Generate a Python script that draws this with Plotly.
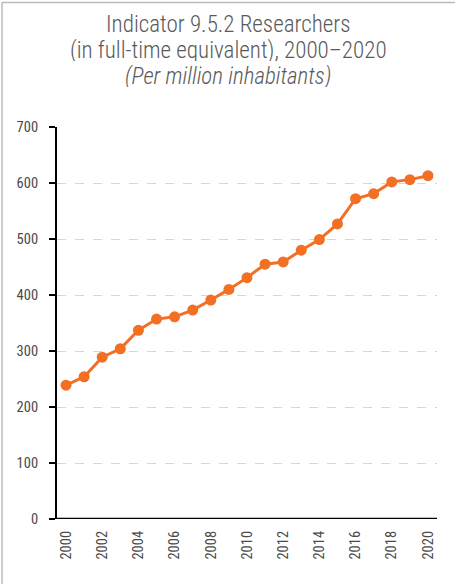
import plotly.graph_objects as go

years = list(range(2000, 2021))
researchers = [239, 254, 289, 304, 337, 357, 361, 373, 391, 410, 431, 455, 459, 480, 499, 527, 572, 581, 602, 606, 613]
x_ticks = list(range(2000, 2021, 2))
y_ticks = [0, 100, 200, 300, 400, 500, 600, 700]
title_lines = ["Indicator 9.5.2 Researchers",
               "(in full-time equivalent), 2000\u20132020",
               "<i>(Per million inhabitants)</i>"]

W, H = 457, 584
L, R, T, B = 57, 20, 127, 65
pw, ph = W - L - R, H - T - B

fig = go.Figure()
fig.add_trace(go.Scatter(
    x=years, y=researchers, mode="lines+markers",
    line=dict(color="#F26F23", width=3),
    marker=dict(color="#F26F23", size=11),
    hoverinfo="x+y", showlegend=False,
))

font_fam = "Roboto Condensed, Liberation Sans Narrow, Roboto, Arial, sans-serif"

fig.update_layout(
    width=W, height=H,
    margin=dict(l=L, r=R, t=T, b=B, pad=0),
    paper_bgcolor="white", plot_bgcolor="white",
    font=dict(family=font_fam, color="#555555"),
    xaxis=dict(
        range=[1999.5, 2020.5], tickmode="array", tickvals=x_ticks,
        ticktext=[str(v) for v in x_ticks], tickangle=-90,
        showgrid=False, zeroline=False, showline=False,
        ticks="", ticklabelstandoff=8,
        tickfont=dict(size=14.5, color="#4a4a4a", family=font_fam),
        fixedrange=True,
    ),
    yaxis=dict(
        range=[0, 700], tickmode="array", tickvals=y_ticks,
        ticktext=[str(v) for v in y_ticks],
        showgrid=True, gridcolor="#d6d6d6", griddash="dash", gridwidth=1.3,
        zeroline=False, showline=True, linecolor="black", linewidth=2,
        ticks="outside", ticklen=6, tickcolor="black", tickwidth=1.5,
        ticklabelstandoff=8,
        tickfont=dict(size=14.5, color="#4a4a4a", family=font_fam),
        fixedrange=True,
    ),
)

# title lines as separate annotations (tight line spacing)
centers_px = [24, 50, 76]
for txt, cy in zip(title_lines, centers_px):
    fig.add_annotation(
        text=txt, xref="paper", yref="paper",
        x=(228 - L) / pw, y=1 + (T - cy) / ph,
        xanchor="center", yanchor="middle", showarrow=False, height=22,
        font=dict(family=font_fam, size=23, color="#5a5a5a", weight=300),
    )

# x axis baseline
fig.add_shape(type="line", xref="paper", yref="y", x0=0, x1=1, y0=0, y1=0,
              line=dict(color="black", width=2.5), layer="above")
# outer frame (left and top)
fx = (2 - L) / pw
fy = 1 + (T - 2.5) / ph
fyb = -(B + 5) / ph
fig.add_shape(type="line", xref="paper", yref="paper", x0=fx, x1=fx, y0=fyb, y1=fy,
              line=dict(color="#bbbbbb", width=1.5))
fig.add_shape(type="line", xref="paper", yref="paper", x0=fx, x1=(455 - L) / pw, y0=fy, y1=fy,
              line=dict(color="#bbbbbb", width=1.5))

fig.write_html("out.html", config={"displayModeBar": False},
               post_script="document.body.style.margin='0';document.body.style.overflow='hidden';")
